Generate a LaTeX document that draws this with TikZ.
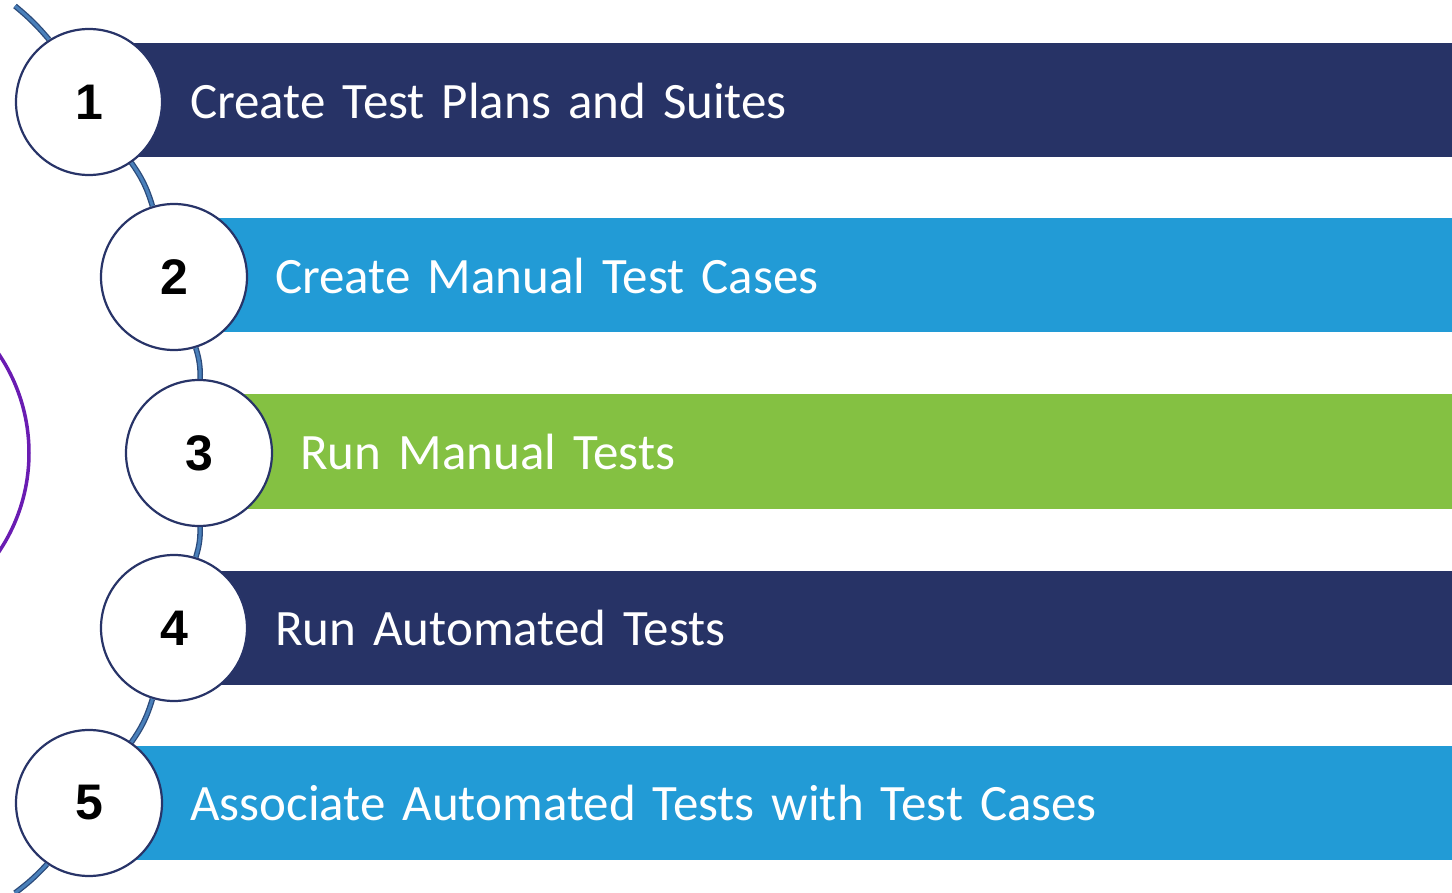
\documentclass[tikz,border=0pt]{standalone}
\usepackage{fontspec}
\setmainfont{Carlito}
\newfontfamily\numfont{Liberation Sans}
\usepackage{tikz}
\usetikzlibrary{positioning,calc}
\definecolor{StepNavy}{HTML}{273366}
\definecolor{StepBlue}{HTML}{229BD6}
\definecolor{StepGreen}{HTML}{84C142}
\definecolor{RingNavy}{HTML}{283468}
\definecolor{SpineDark}{HTML}{2B4A7A}
\definecolor{SpineLight}{HTML}{4A80BA}
\definecolor{ArcPurple}{HTML}{6A1CB2}
\tikzset{
  stepcircle/.style={circle,draw=RingNavy,line width=2.2pt,fill=white,minimum size=146pt,inner sep=0pt,font=\numfont\bfseries\fontsize{50}{54}\selectfont},
  stepbar/.style={rectangle,anchor=west,minimum height=114pt,inner xsep=101pt,inner ysep=0pt,align=left,text=white,font=\fontsize{51}{60}\selectfont},
  spine/.style={draw=SpineDark,line width=1.3pt,double=SpineLight,double distance=3pt},
  outerarc/.style={draw=ArcPurple,line width=3.5pt}
}

\begin{document}
\begin{tikzpicture}[x=1pt,y=-1pt]
\clip (0,0) rectangle (1452,893);
\fill[white] (0,0) rectangle (1452,893);

% decorative ring on the far left
\draw[outerarc] (-148,453) circle (177);

% coloured bars
\node[stepbar,fill=StepNavy,text width=1161pt] (b1) at (89,100.5) {Create Test Plans and Suites};
\node[stepbar,fill=StepBlue,text width=1076pt] (b2) at (174,275.5) {Create Manual Test Cases};
\node[stepbar,fill=StepGreen,text width=1051pt] (b3) at (199,451.5) {Run Manual Tests};
\node[stepbar,fill=StepNavy,text width=1076pt] (b4) at (174,627.5) {Run Automated Tests};
\node[stepbar,fill=StepBlue,text width=1161pt] (b5) at (89,803) {Associate Automated Tests with Test Cases};

% numbered circles
\node[stepcircle] (c1) at (89,102) {1};
\node[stepcircle] (c2) at (174,277) {2};
\node[stepcircle] (c3) at (199,453) {3};
\node[stepcircle] (c4) at (174,628) {4};
\node[stepcircle] (c5) at (89,803) {5};

% spine through the circles
\coordinate (spinetop) at (15,6);
\coordinate (spinebot) at (15,893);
\draw[spine] (spinetop) to[bend left=5] (c1);
\draw[spine] (c1) to[bend left=9] (c2);
\draw[spine] (c2) to[bend left=9] (c3);
\draw[spine] (c3) to[bend left=9] (c4);
\draw[spine] (c4) to[bend left=9] (c5);
\draw[spine] (c5) to[bend left=5] (spinebot);
\end{tikzpicture}
\end{document}
